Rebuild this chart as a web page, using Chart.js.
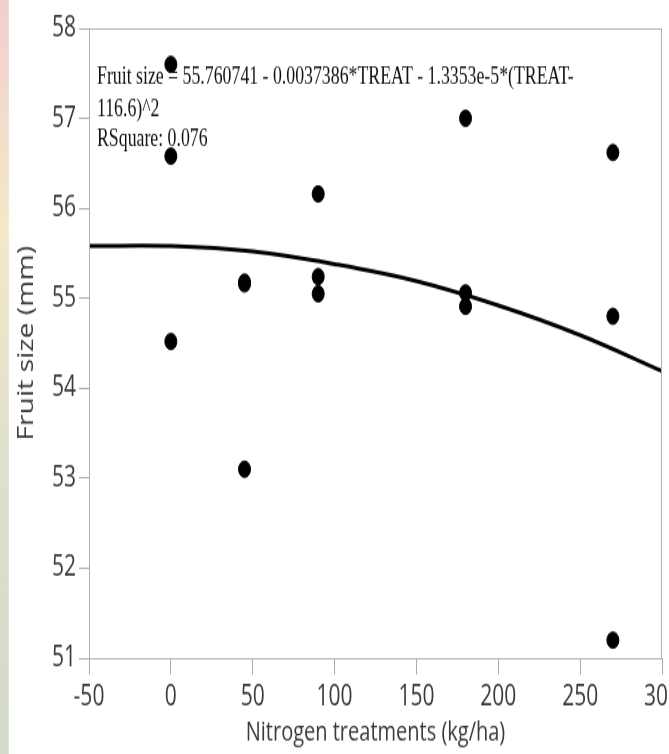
<!DOCTYPE html>
<html>
<head>
<meta charset="utf-8">
<script src="https://cdn.jsdelivr.net/npm/chart.js@4"></script>
<style>
    html, body { margin: 0; padding: 0; background: #fff; }
    #outer { width: 669px; height: 754px; overflow: hidden; }
    /* the original figure is stretched vertically, so draw at 558px and stretch */
    #wrap { width: 669px; height: 558px; position: relative; transform: scaleY(1.35135); transform-origin: 0 0; }
</style>
</head>
<body>
<div id="outer"><div id="wrap"><canvas id="fruitChart"></canvas></div></div>
<script>
// observed fruit sizes per nitrogen treatment
const treatments = [0, 0, 0, 45, 45, 45, 90, 90, 90, 180, 180, 180, 270, 270, 270];
const fruitSize = [57.6, 56.58, 54.52, 55.18, 55.16, 53.1, 56.16, 55.24, 55.05, 57.0, 55.06, 54.91, 56.62, 54.8, 51.2];

// fitted curve
const curveX = [-50, 0, 50, 100, 150, 200, 250, 300];
const curveY = [55.58, 55.58, 55.52, 55.38, 55.19, 54.92, 54.59, 54.19];

const yTicks = [51, 52, 53, 54, 55, 56, 57, 58];
const xTicks = [-50, 0, 50, 100, 150, 200, 250, 300];

const fitText = [
    "Fruit size = 55.760741 - 0.0037386*TREAT - 1.3353e-5*(TREAT-",
    "116.6)^2",
    "RSquare: 0.076"
];

const ctx = document.getElementById('fruitChart').getContext('2d');

// slide background strip on the left + frame + fit equation
const decor = {
    id: 'decor',
    beforeDraw(chart) {
        const c = chart.ctx;
        const g = c.createLinearGradient(0, 0, 0, chart.height);
        g.addColorStop(0, '#f1cfcf');
        g.addColorStop(0.3, '#f4e8c6');
        g.addColorStop(0.6, '#dfe0cc');
        g.addColorStop(1, '#d3dac9');
        c.save();
        c.fillStyle = g;
        c.fillRect(0, 0, 9, chart.height);
        const h = c.createLinearGradient(7, 0, 16, 0);
        h.addColorStop(0, 'rgba(255,255,255,0)');
        h.addColorStop(1, 'rgba(255,255,255,1)');
        c.fillStyle = h;
        c.fillRect(7, 0, 9, chart.height);
        c.restore();
    },
    afterDatasetsDraw(chart) {
        const c = chart.ctx;
        const a = chart.chartArea;
        c.save();
        c.strokeStyle = '#b0b0b0';
        c.lineWidth = 1;
        c.strokeRect(a.left + 0.5, a.top + 0.5, a.right - a.left - 1, a.bottom - a.top);
        c.fillStyle = '#111';
        c.font = '17.8px "Liberation Serif"';
        c.textBaseline = 'middle';
        const ys = [57, 81.4, 103.6];
        fitText.forEach((t, i) => c.fillText(t, a.left + 8, ys[i]));
        c.restore();
    }
};

const fruitChart = new Chart(ctx, {
    type: 'scatter',
    data: {
        datasets: [{
            label: "Fit",
            type: 'line',
            data: curveX.map((x, i) => ({ x: x, y: curveY[i] })),
            borderColor: "#000",
            borderWidth: 3,
            fill: false,
            tension: 0.4,
            pointRadius: 0
        }, {
            label: "Fruit size",
            data: treatments.map((x, i) => ({ x: x, y: fruitSize[i] })),
            backgroundColor: "#000",
            borderColor: "#000",
            pointRadius: 6,
            pointHoverRadius: 6
        }]
    },
    options: {
        responsive: true,
        maintainAspectRatio: false,
        animation: false,
        layout: { padding: { top: 21, right: 5, left: 0, bottom: 0 } },
        scales: {
            x: {
                type: 'linear',
                min: -50,
                max: 300,
                afterBuildTicks: (s) => { s.ticks = xTicks.map(v => ({ value: v })); },
                afterFit: (s) => { s.height = 71; s.paddingLeft = 0; s.paddingRight = 0; },
                border: { color: '#a8a8a8', width: 1 },
                grid: { display: true, drawOnChartArea: false, drawTicks: true, tickLength: 12, color: '#a8a8a8' },
                ticks: {
                    color: "#3a3a3a",
                    padding: 4,
                    maxRotation: 0,
                    font: { size: 21, family: "Open Sans" }
                },
                title: {
                    display: true,
                    text: "Nitrogen treatments (kg/ha)",
                    color: "#3a3a3a",
                    font: { size: 20, family: "Open Sans" },
                    padding: { top: 0, bottom: 4 }
                }
            },
            y: {
                min: 51,
                max: 58,
                afterBuildTicks: (s) => { s.ticks = yTicks.map(v => ({ value: v })); },
                afterFit: (s) => { s.width = 89; },
                border: { color: '#a8a8a8', width: 1 },
                grid: { display: true, drawOnChartArea: false, drawTicks: true, tickLength: 10, color: '#a8a8a8' },
                ticks: {
                    color: "#3a3a3a",
                    padding: 3,
                    font: { size: 21, family: "Open Sans" }
                },
                title: {
                    display: true,
                    text: "Fruit size (mm)",
                    color: "#3a3a3a",
                    font: { size: 21, family: "Open Sans" },
                    padding: { top: 14, bottom: 0 }
                }
            }
        },
        plugins: {
            legend: { display: false },
            tooltip: { enabled: false }
        }
    },
    plugins: [decor]
});
</script>
</body>
</html>
